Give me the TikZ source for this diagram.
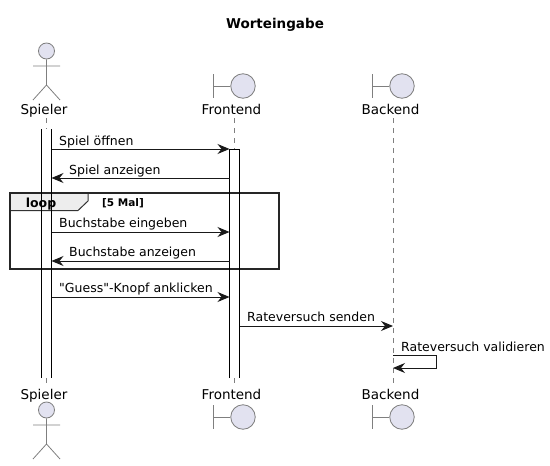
\documentclass[tikz,border=0pt]{standalone}
\usepackage{fontspec}
\setmainfont{DejaVu Sans}[Ligatures=TeXOff]
\usetikzlibrary{arrows.meta}
\definecolor{partfill}{HTML}{E2E2F0}
\definecolor{partline}{HTML}{7F7F7F}
\tikzstyle{arrow} = [line width=1pt,-{Stealth[length=12pt,width=10pt,inset=4pt]},draw=black!90]
\tikzstyle{part} = [fill=partfill,draw=partline,line width=0.8pt]
\tikzstyle{limb} = [draw=partline,line width=0.8pt]
\tikzstyle{lifeline} = [draw=partline,line width=0.8pt,dash pattern=on 5pt off 5pt]
\tikzstyle{msg} = [anchor=base west,inner sep=0pt,font=\fontsize{12.5}{15}\selectfont]
\tikzstyle{partname} = [anchor=base,inner sep=0pt,font=\fontsize{13.5}{16}\selectfont]

\begin{document}
\begin{tikzpicture}[x=1pt,y=-1pt]
        \useasboundingbox (0,0) rectangle (550,466);

        \node[anchor=base,inner sep=0pt,font=\fontsize{13.5}{16}\selectfont\bfseries] (title) at (275,28) {Worteingabe};

        % lifelines
        \draw[lifeline] (46.5,118) -- (46.5,386);
        \draw[lifeline] (234.5,118) -- (234.5,386);
        \draw[lifeline] (393,118) -- (393,386);

        % activations
        \fill[white] (41.5,129) rectangle (51.5,378);
        \fill[white] (229.5,149) rectangle (239.5,378);

        % loop frame
        \draw[fill=black!7,draw=black!80,line width=1pt] (10,193) -- (88,193) -- (88,201) -- (78,210.5) -- (10,210.5) -- cycle;
        \draw[draw=black!85,line width=1.5pt] (10,193) rectangle (279,269);
        \node[anchor=base,inner sep=0pt,font=\fontsize{12.5}{15}\selectfont\bfseries] (looptag) at (41,207) {loop};
        \node[anchor=base west,inner sep=0pt,font=\fontsize{10.5}{13}\selectfont\bfseries] (loopcond) at (102,206) {[5 Mal]};

        \draw[black,line width=1pt] (41.5,129) -- (41.5,378) (51.5,129) -- (51.5,378);
        \draw[black,line width=1pt] (229.5,378) -- (229.5,149) -- (239.5,149) -- (239.5,378);

        % participants
        \foreach \yy/\nm in {0/top,359/bot} {
            \node[part,circle,minimum size=16pt,inner sep=0pt,yshift=\yy*-1pt] (head\nm) at (46.5,51) {};
            \draw[limb,yshift=\yy*-1pt] (head\nm.south) -- (46.5,85) (33,66) -- (60,66) (33,100) -- (46.5,85) -- (60,100);
        }
        \foreach \xx/\nm in {243/fe,402/be} {
            \foreach \yy/\pos in {86/top,417/bot} {
                \node[part,circle,minimum size=24.5pt,inner sep=0pt] (\nm\pos) at (\xx,\yy) {};
                \draw[limb] (\nm\pos.west) -- ++(-17,0) ++(0,-12) -- ++(0,24);
            }
        }
        \foreach \yy/\pos in {114/top,399/bot} {
            \node[partname] (spieler\pos) at (44,\yy) {Spieler};
            \node[partname] (frontend\pos) at (231.5,\yy) {Frontend};
            \node[partname] (backend\pos) at (390.5,\yy) {Backend};
        }

        % message ends
        \coordinate (sp1) at (51.5,149);  \coordinate (fe1) at (229.5,149);
        \coordinate (sp2) at (51.5,178);  \coordinate (fe2) at (229.5,178);
        \coordinate (sp3) at (51.5,232);  \coordinate (fe3) at (229.5,232);
        \coordinate (sp4) at (51.5,261);  \coordinate (fe4) at (229.5,261);
        \coordinate (sp5) at (51.5,297);  \coordinate (fe5) at (229.5,297);
        \coordinate (fe6) at (239.5,326); \coordinate (be6) at (393,326);
        \coordinate (be7) at (393,355);   \coordinate (be8) at (393,368);

        \draw[arrow] (sp1) -- (fe1);
        \draw[arrow] (fe2) -- (sp2);
        \draw[arrow] (sp3) -- (fe3);
        \draw[arrow] (fe4) -- (sp4);
        \draw[arrow] (sp5) -- (fe5);
        \draw[arrow] (fe6) -- (be6);
        \draw[arrow] (be7) -- ++(43,0) |- (be8);

        \node[msg] (m1) at (59,145) {Spiel öffnen};
        \node[msg] (m2) at (69,174) {Spiel anzeigen};
        \node[msg] (m3) at (59,227) {Buchstabe eingeben};
        \node[msg] (m4) at (69,256) {Buchstabe anzeigen};
        \node[msg] (m5) at (59,292) {"Guess"-Knopf anklicken};
        \node[msg] (m6) at (247,321) {Rateversuch senden};
        \node[msg] (m7) at (401,351) {Rateversuch validieren};

    \end{tikzpicture}
\end{document}
